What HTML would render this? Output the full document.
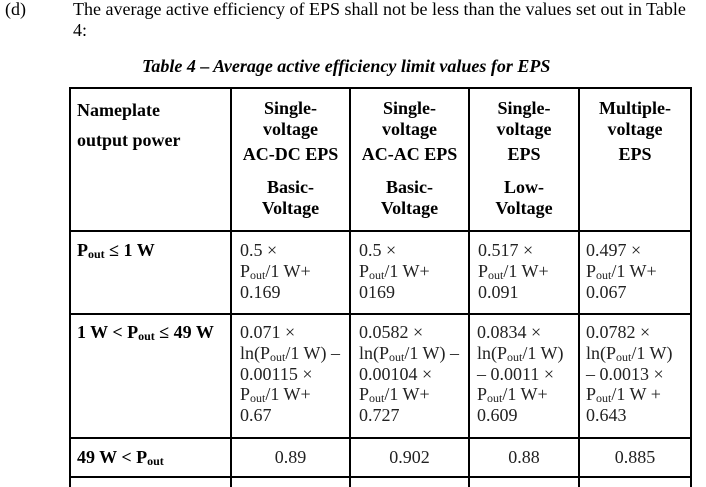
<!DOCTYPE html>
<html><head><meta charset="utf-8"><style>
body{margin:0;width:706px;height:484px;background:#fff;position:relative;overflow:hidden;font-family:"Liberation Serif",serif;color:#000;font-size:18px}
.a{position:absolute;white-space:nowrap}
.h{position:absolute;background:#000;height:1.5px}
.v{position:absolute;background:#000;width:1.5px}
.c{text-align:center;font-weight:bold;line-height:21px}
.n{line-height:20.8px;color:#222}
sub{font-size:12px;vertical-align:-2px;line-height:0}
</style></head><body>
<div class="a" style="left:5px;top:-1px;line-height:21px">(d)</div>
<div class="a" style="left:73px;top:-1px;line-height:21px">The average active efficiency of EPS shall not be less than the values set out in Table<br>4:</div>
<div class="a" style="left:142px;top:56px;font-weight:bold;font-style:italic">Table 4 – Average active efficiency limit values for EPS</div>

<div class="h" style="left:69px;top:87px;width:623px"></div>
<div class="h" style="left:69px;top:230px;width:623px"></div>
<div class="h" style="left:69px;top:313px;width:623px"></div>
<div class="h" style="left:69px;top:437px;width:623px"></div>
<div class="h" style="left:69px;top:476px;width:623px"></div>
<div class="v" style="left:69px;top:87px;height:400px"></div>
<div class="v" style="left:230px;top:87px;height:400px"></div>
<div class="v" style="left:349px;top:87px;height:400px"></div>
<div class="v" style="left:468px;top:87px;height:400px"></div>
<div class="v" style="left:578px;top:87px;height:400px"></div>
<div class="v" style="left:690px;top:87px;height:400px"></div>

<div class="a" style="left:77px;top:95px;font-weight:bold;line-height:30px">Nameplate<br>output power</div>
<div class="a c" style="left:231px;width:119px;top:98px">Single-<br>voltage<br><span style="line-height:29px">AC-DC EPS</span><br><span style="display:inline-block;margin-top:8px">Basic-<br>Voltage</span></div>
<div class="a c" style="left:350px;width:119px;top:98px">Single-<br>voltage<br><span style="line-height:29px">AC-AC EPS</span><br><span style="display:inline-block;margin-top:8px">Basic-<br>Voltage</span></div>
<div class="a c" style="left:469px;width:110px;top:98px">Single-<br>voltage<br><span style="line-height:29px">EPS</span><br><span style="display:inline-block;margin-top:8px">Low-<br>Voltage</span></div>
<div class="a c" style="left:579px;width:112px;top:98px">Multiple-<br>voltage<br><span style="line-height:29px">EPS</span></div>

<div class="a" style="left:77px;top:240px;font-weight:bold">P<sub>out</sub> ≤ 1 W</div>
<div class="a n" style="left:240px;top:240px">0.5 ×<br>P<sub>out</sub>/1 W+<br>0.169</div>
<div class="a n" style="left:359px;top:240px">0.5 ×<br>P<sub>out</sub>/1 W+<br>0169</div>
<div class="a n" style="left:478px;top:240px">0.517 ×<br>P<sub>out</sub>/1 W+<br>0.091</div>
<div class="a n" style="left:586px;top:240px">0.497 ×<br>P<sub>out</sub>/1 W+<br>0.067</div>

<div class="a" style="left:77px;top:322px;font-weight:bold">1 W &lt; P<sub>out</sub> ≤ 49 W</div>
<div class="a n" style="left:240px;top:322px">0.071 ×<br>ln(P<sub>out</sub>/1 W) –<br>0.00115 ×<br>P<sub>out</sub>/1 W+<br>0.67</div>
<div class="a n" style="left:359px;top:322px">0.0582 ×<br>ln(P<sub>out</sub>/1 W) –<br>0.00104 ×<br>P<sub>out</sub>/1 W+<br>0.727</div>
<div class="a n" style="left:477px;top:322px">0.0834 ×<br>ln(P<sub>out</sub>/1 W)<br>– 0.0011 ×<br>P<sub>out</sub>/1 W+<br>0.609</div>
<div class="a n" style="left:586px;top:322px">0.0782 ×<br>ln(P<sub>out</sub>/1 W)<br>– 0.0013 ×<br>P<sub>out</sub>/1 W +<br>0.643</div>

<div class="a" style="left:77px;top:447px;font-weight:bold">49 W &lt; P<sub>out</sub></div>
<div class="a n" style="left:231px;width:119px;text-align:center;top:447px">0.89</div>
<div class="a n" style="left:350px;width:119px;text-align:center;top:447px">0.902</div>
<div class="a n" style="left:469px;width:110px;text-align:center;top:447px">0.88</div>
<div class="a n" style="left:579px;width:112px;text-align:center;top:447px">0.885</div>
</body></html>
